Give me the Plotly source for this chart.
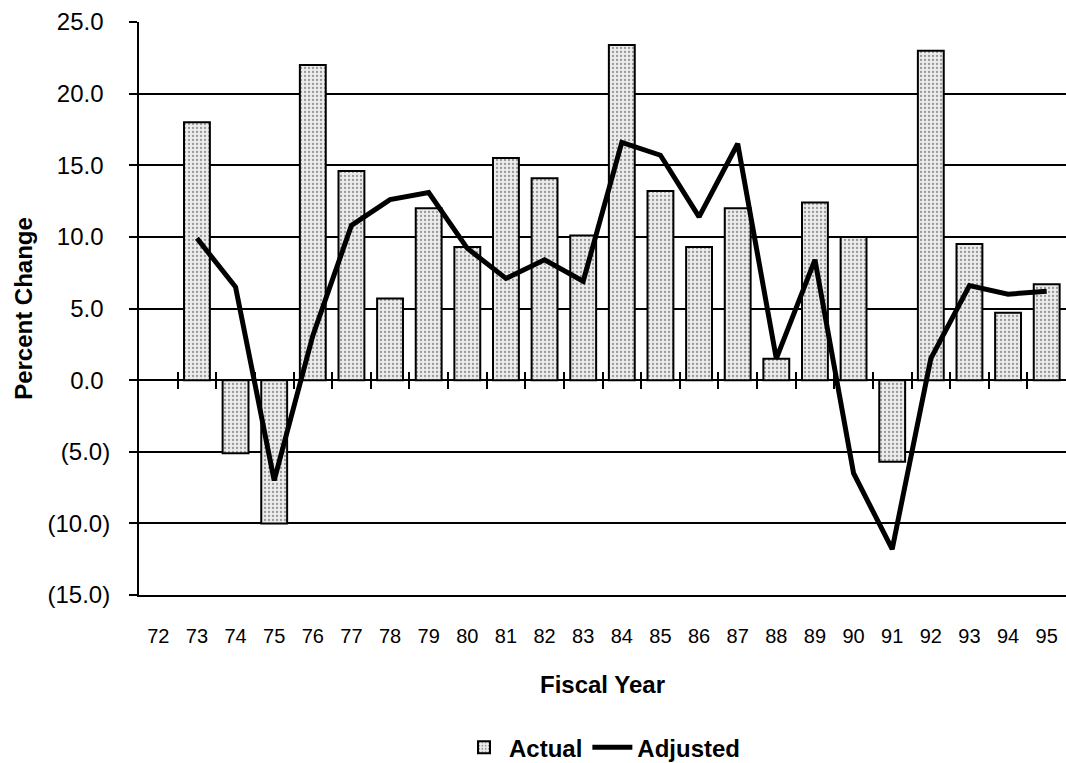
import plotly.graph_objects as go

# ---- data ----
categories = ["72", "73", "74", "75", "76", "77", "78", "79", "80", "81", "82", "83",
              "84", "85", "86", "87", "88", "89", "90", "91", "92", "93", "94", "95"]
years = ["73", "74", "75", "76", "77", "78", "79", "80", "81", "82", "83", "84",
         "85", "86", "87", "88", "89", "90", "91", "92", "93", "94", "95"]
actual = [18.0, -5.1, -10.0, 22.0, 14.6, 5.7, 12.0, 9.3, 15.5, 14.1, 10.1, 23.4,
          13.2, 9.3, 12.0, 1.5, 12.4, 10.0, -5.7, 23.0, 9.5, 4.7, 6.7]
adjusted = [9.9, 6.5, -7.0, 3.1, 10.8, 12.6, 13.1, 9.2, 7.1, 8.4, 6.9, 16.6,
            15.7, 11.4, 16.5, 1.5, 8.4, -6.5, -11.8, 1.5, 6.6, 6.0, 6.2]
y_tickvals = [-15, -10, -5, 0, 5, 10, 15, 20, 25]
y_ticktext = ["(15.0)", "(10.0)", "(5.0)", "0.0\u00a0", "5.0\u00a0", "10.0\u00a0",
              "15.0\u00a0", "20.0\u00a0", "25.0\u00a0"]

FONT = "Arial, 'Liberation Sans', Helvetica, sans-serif"
n_cat = len(categories)
boundaries = [i + 0.5 for i in range(n_cat - 1)]

fig = go.Figure()
fig.add_trace(go.Bar(
    x=years, y=actual, name="Actual",
    marker=dict(color="#e6e6e6",
                line=dict(color="black", width=2),
                pattern=dict(shape=".", fgcolor="#444444", bgcolor="#ececec",
                             size=4, solidity=0.25)),
))
fig.add_trace(go.Scatter(
    x=years, y=adjusted, name="Adjusted", mode="lines",
    line=dict(color="black", width=5),
))
# empty helper traces so the zero-line tick axes are drawn
for ax in ("x2", "x3"):
    fig.add_trace(go.Scatter(x=[], y=[], xaxis=ax, yaxis="y", showlegend=False,
                             hoverinfo="skip", mode="lines"))

fig.update_layout(
    width=1066, height=763,
    margin=dict(l=139, r=0, t=22, b=168, autoexpand=False),
    paper_bgcolor="white", plot_bgcolor="white",
    font=dict(family=FONT, size=18, color="black"),
    bargap=0.33,
    showlegend=True,
    legend=dict(orientation="h", x=0.5, xanchor="center",
                yref="container", y=0.02, yanchor="middle",
                font=dict(family=FONT, size=24, color="black", weight="bold"),
                itemwidth=40, traceorder="normal"),
    xaxis=dict(type="category", categoryorder="array", categoryarray=categories,
               tickvals=categories, ticktext=categories,
               range=[-0.5, n_cat - 0.5], showgrid=False, zeroline=False,
               showline=True, linecolor="black", linewidth=1.5,
               ticks="", ticklabelstandoff=22, automargin=False,
               tickfont=dict(size=20),
               title=dict(text="Fiscal Year", standoff=30,
                          font=dict(size=24, weight="bold"))),
    xaxis2=dict(overlaying="x", anchor="free", position=0.375,
                range=[-0.5, n_cat - 0.5], tickvals=boundaries,
                ticks="outside", ticklen=8, tickwidth=1.5, tickcolor="black",
                showticklabels=False, showgrid=False, zeroline=False, showline=False),
    xaxis3=dict(overlaying="x", anchor="free", position=0.375,
                range=[-0.5, n_cat - 0.5], tickvals=boundaries,
                ticks="inside", ticklen=8, tickwidth=1.5, tickcolor="black",
                showticklabels=False, showgrid=False, zeroline=False, showline=False),
    yaxis=dict(range=[-15, 25], tickvals=y_tickvals, ticktext=y_ticktext,
               showgrid=True, gridcolor="black", gridwidth=1.5,
               zeroline=True, zerolinecolor="black", zerolinewidth=1.5,
               showline=True, linecolor="black", linewidth=2, automargin=False,
               ticks="outside", ticklen=8, tickwidth=1.5, tickcolor="black",
               ticklabelstandoff=14, tickfont=dict(size=24),
               title=dict(text="Percent Change", standoff=8,
                          font=dict(size=24, weight="bold"))),
)

fig.write_html("out.html", config={"displayModeBar": False},
               post_script="document.body.style.margin='0';")
